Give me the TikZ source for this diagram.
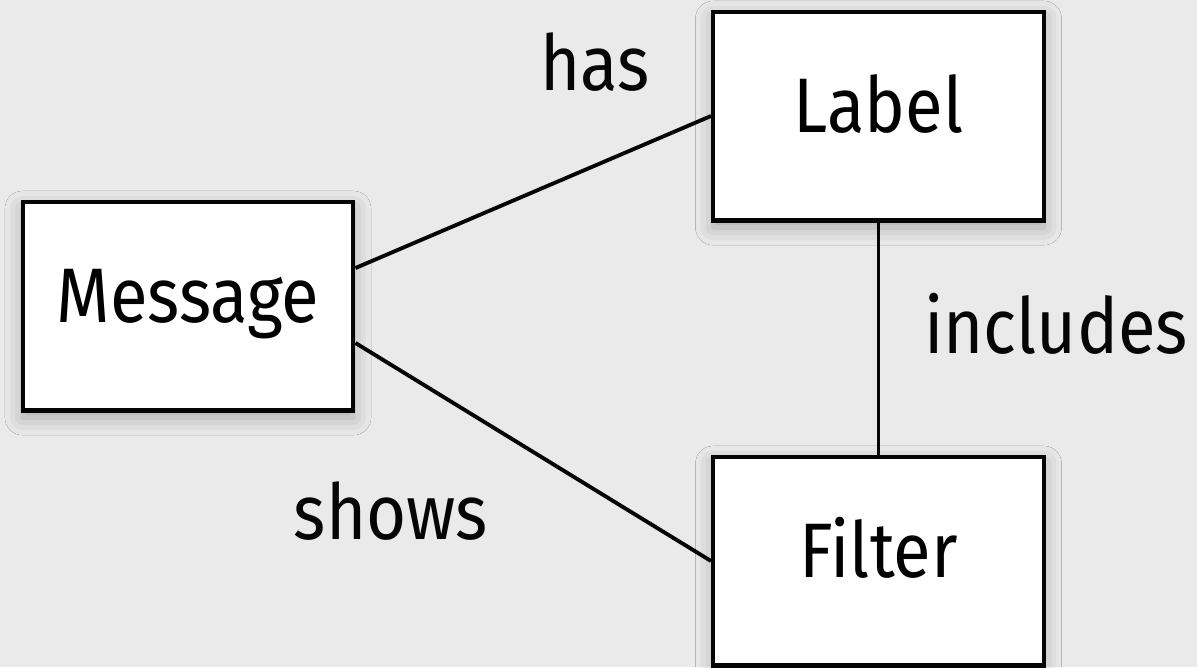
\documentclass[tikz,border=0pt]{standalone}
\usepackage{fontspec}
\setmainfont{Fira Sans}[FakeStretch=0.89]
\usetikzlibrary{shadows.blur}
\definecolor{canvas}{HTML}{EAEAEA}
\definecolor{ink}{HTML}{050505}
\tikzset{
  entity/.style={draw=ink,fill=white,line width=2.3pt,minimum width=6.62cm,minimum height=4.18cm,
    inner sep=0pt,text height=0.64cm,text depth=0pt,font=\fontsize{44}{50}\selectfont,
    blur shadow={shadow xshift=0pt,shadow yshift=-4pt,shadow blur radius=10pt,shadow opacity=28}},
  rel/.style={line width=2.2pt,draw=ink},
  rellabel/.style={anchor=base,inner sep=0pt,text=ink,font=\fontsize{44}{50}\selectfont}
}

\begin{document}
\begin{tikzpicture}[x=0.02cm,y=-0.02cm]
    \fill[canvas] (0,0) rectangle (1197,667);
    \useasboundingbox (0,0) rectangle (1197,667);

    \node[entity] (msg) at (188,306) {Message};
    \node[entity] (lbl) at (878.5,116) {Label};
    \node[entity] (flt) at (878.5,561) {Filter};

    \draw[rel] ([yshift=0.76cm]msg.east) -- (lbl.west);
    \draw[rel] ([yshift=-0.74cm]msg.east) -- (flt.west);
    \draw[rel] (lbl) -- (flt);

    \node[rellabel] (has) at (595,90) {has};
    \node[rellabel] (shows) at (391,539) {shows};
    \node[rellabel] (includes) at (1056,353) {includes};
  \end{tikzpicture}
\end{document}
